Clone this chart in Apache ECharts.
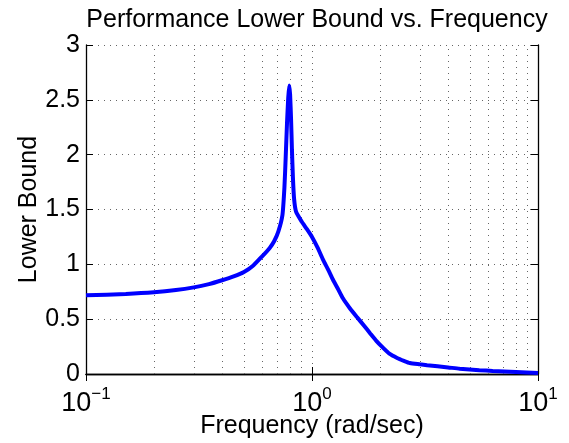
<!DOCTYPE html>
<html>
<head>
<meta charset="utf-8">
<script src="https://cdn.jsdelivr.net/npm/echarts@6/dist/echarts.min.js"></script>
<style>
html,body{margin:0;padding:0;background:#fff;}
#c{width:569px;height:443px;}
</style>
</head>
<body>
<div id="c"></div>
<script>
var titleText = 'Performance Lower Bound vs. Frequency';
var xName = 'Frequency (rad/sec)';
var yName = 'Lower Bound';
var freq = [0.1, 0.15, 0.2, 0.25, 0.3, 0.35, 0.4, 0.45, 0.5, 0.55, 0.6, 0.65, 0.68, 0.71, 0.74, 0.755, 0.765, 0.775, 0.785, 0.793, 0.8, 0.808, 0.815, 0.823, 0.833, 0.85, 0.9, 0.95, 1.0, 1.06, 1.12, 1.18, 1.24, 1.3, 1.37, 1.47, 1.58, 1.7, 1.81, 1.93, 2.06, 2.2, 2.38, 2.55, 2.71, 3.0, 3.23, 4.0, 4.5, 5.5, 6.3, 8, 10];
var bound = [0.717, 0.73, 0.745, 0.765, 0.79, 0.82, 0.855, 0.89, 0.93, 0.99, 1.07, 1.15, 1.21, 1.30, 1.45, 1.70, 1.98, 2.28, 2.52, 2.63, 2.55, 2.32, 2.05, 1.80, 1.60, 1.48, 1.39, 1.32, 1.25, 1.15, 1.04, 0.95, 0.857, 0.78, 0.69, 0.60, 0.52, 0.44, 0.37, 0.30, 0.24, 0.185, 0.146, 0.12, 0.10, 0.088, 0.08, 0.06, 0.048, 0.035, 0.027, 0.018, 0.01];
var minorGrid = [0.2, 0.3, 0.4, 0.5, 0.6, 0.7, 0.8, 0.9, 2, 3, 4, 5, 6, 7, 8, 9];
var yTicks = [0, 0.5, 1, 1.5, 2, 2.5, 3];

var FONT = '"Liberation Sans", Arial, Helvetica, sans-serif';
var gridDot = {color: '#666', width: 1, type: [1, 5]};

var chart = echarts.init(document.getElementById('c'), null, {renderer: 'canvas'});
var data = freq.map(function (f, i) { return [f, bound[i]]; });

function expLabel(v) {
  var e = Math.round(Math.log(v) / Math.LN10);
  return '{b|10}{s|' + (e < 0 ? '\u2212' + (-e) : e) + '}';
}

chart.setOption({
  animation: false,
  backgroundColor: '#fff',
  title: {
    text: titleText,
    left: 312, top: 3, textAlign: 'center',
    textStyle: {fontFamily: FONT, fontSize: 25, fontWeight: 'normal', color: '#000'}
  },
  grid: {left: 86, right: 31, top: 45, bottom: 69, containLabel: false, outerBoundsMode: 'none'},
  xAxis: [{
    type: 'log', logBase: 10, min: 0.1, max: 10,
    name: xName, nameLocation: 'middle', nameGap: 40, nameMoveOverlap: false,
    nameTextStyle: {fontFamily: FONT, fontSize: 25, color: '#000'},
    axisLine: {show: true, lineStyle: {color: '#000', width: 1.3}},
    axisTick: {show: true, inside: true, length: 7, lineStyle: {color: '#000'}},
    axisLabel: {
      margin: 12, formatter: expLabel, color: '#000',
      rich: {
        b: {fontFamily: FONT, fontSize: 27, color: '#000', verticalAlign: 'bottom'},
        s: {fontFamily: FONT, fontSize: 17, color: '#000', verticalAlign: 'top', padding: [0, 0, 14, 0]}
      }
    },
    splitLine: {show: true, lineStyle: gridDot}
  }, {
    type: 'log', logBase: 10, min: 0.1, max: 10, position: 'top',
    axisLine: {show: true, lineStyle: {color: '#000', width: 1.3}},
    axisTick: {show: true, inside: true, length: 7, lineStyle: {color: '#000'}},
    axisLabel: {show: false}, splitLine: {show: false}
  }],
  yAxis: [{
    type: 'value', min: 0, max: 3, interval: 0.5,
    name: yName, nameLocation: 'middle', nameGap: 44, nameMoveOverlap: false,
    nameTextStyle: {fontFamily: FONT, fontSize: 25, color: '#000'},
    axisLine: {show: true, lineStyle: {color: '#000', width: 1.3}},
    axisTick: {show: true, inside: true, length: 7, lineStyle: {color: '#000'}},
    axisLabel: {margin: 6, fontFamily: FONT, fontSize: 25, color: '#000',
      formatter: function (v) { return String(v); }},
    splitLine: {show: true, lineStyle: gridDot}
  }, {
    type: 'value', min: 0, max: 3, interval: 0.5, position: 'right',
    axisLine: {show: true, lineStyle: {color: '#000', width: 1.3}},
    axisTick: {show: true, inside: true, length: 7, lineStyle: {color: '#000'}},
    axisLabel: {show: false}, splitLine: {show: false}
  }],
  series: [{
    type: 'line',
    data: data,
    showSymbol: false,
    smooth: 0.2,
    lineStyle: {color: '#0000ff', width: 4},
    z: 5,
    markLine: {
      silent: true, symbol: 'none', label: {show: false},
      lineStyle: gridDot,
      data: minorGrid.map(function (v) { return {xAxis: v}; }),
      z: 1
    }
  }]
});
</script>
</body>
</html>
